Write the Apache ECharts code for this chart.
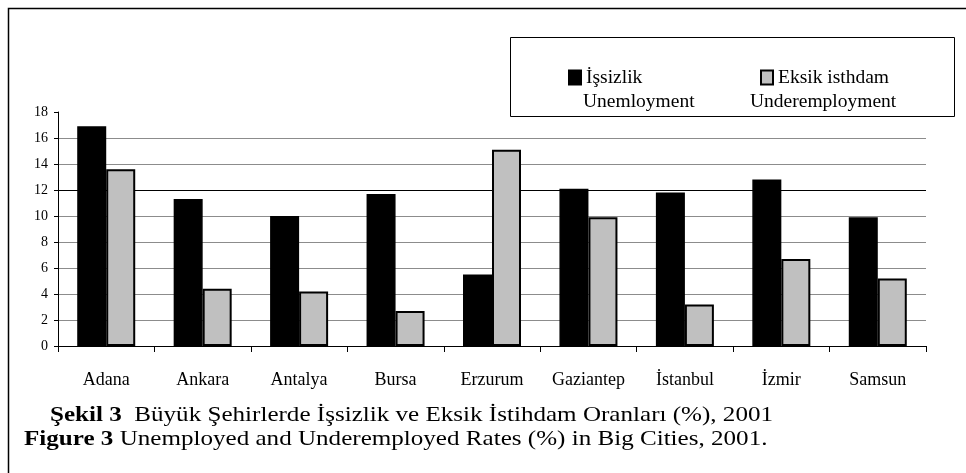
<!DOCTYPE html>
<html>
<head>
<meta charset="utf-8">
<script src="https://cdn.jsdelivr.net/npm/echarts@6/dist/echarts.min.js"></script>
<style>
  html, body { margin: 0; padding: 0; background: #fff; }
  #main { width: 966px; height: 473px; }
</style>
</head>
<body>
<div id="main"></div>
<script>
// cities and rates (%)
var cities = ['Adana', 'Ankara', 'Antalya', 'Bursa', 'Erzurum', 'Gaziantep', 'İstanbul', 'İzmir', 'Samsun'];
var unemployment = [16.9, 11.3, 10.0, 11.7, 5.5, 12.1, 11.8, 12.8, 9.9];
var underemployment = [13.6, 4.4, 4.2, 2.7, 15.1, 9.9, 3.2, 6.7, 5.2];
var seriesNames = ['İşsizlik', 'Eksik isthdam'];
var seriesNamesEn = ['Unemloyment', 'Underemployment'];

var FONT = '"Liberation Serif", "Times New Roman", serif';

var chart = echarts.init(document.getElementById('main'), null, { renderer: 'canvas' });

// gridlines 2..16, the one at 12 is drawn darker in the original
var gridColors = ['#8c8c8c', '#8c8c8c', '#8c8c8c', '#8c8c8c', '#8c8c8c', '#000', '#8c8c8c', '#8c8c8c'];

function legendFor(name, left) {
  return {
    left: left,
    top: 67.5,
    padding: 0,
    itemWidth: 12,
    itemHeight: 14,
    icon: 'rect',
    data: [name],
    textStyle: { fontFamily: FONT, fontSize: 19.5, color: '#000', lineHeight: 20, height: 20 }
  };
}

var option = {
  backgroundColor: '#fff',
  animation: false,
  textStyle: { fontFamily: FONT },
  grid: { left: 58, right: 40, top: 112, bottom: 127 },
  legend: [legendFor(seriesNames[0], 568), legendFor(seriesNames[1], 760)],
  xAxis: {
    type: 'category',
    data: cities,
    axisLine: { lineStyle: { color: '#000', width: 1 } },
    axisTick: { show: true, length: 6, interval: 0, lineStyle: { color: '#000' } },
    axisLabel: { interval: 0, margin: 25, fontSize: 18, color: '#000', fontFamily: FONT },
    splitLine: { show: false }
  },
  yAxis: {
    type: 'value',
    min: 0,
    max: 18,
    interval: 2,
    axisLine: { show: true, lineStyle: { color: '#000', width: 1 } },
    axisTick: { show: true, length: 4, lineStyle: { color: '#000' } },
    axisLabel: { margin: 10, fontSize: 14, color: '#000', fontFamily: FONT },
    splitLine: {
      show: true,
      showMinLine: false,
      showMaxLine: false,
      lineStyle: { color: gridColors, width: 1.2 }
    }
  },
  series: [
    {
      name: seriesNames[0],
      type: 'bar',
      data: unemployment,
      barWidth: 29,
      barGap: '0%',
      itemStyle: { color: '#000', borderColor: '#000', borderWidth: 1.5 }
    },
    {
      name: seriesNames[1],
      type: 'bar',
      data: underemployment,
      barWidth: 29,
      barGap: '0%',
      itemStyle: { color: '#c0c0c0', borderColor: '#000', borderWidth: 2 }
    }
  ],
  graphic: [
    {
      type: 'rect',
      silent: true,
      z: -10,
      shape: { x: 8.5, y: 8.5, width: 1000, height: 1000 },
      style: { fill: 'none', stroke: '#000', lineWidth: 1.5 }
    },
    {
      type: 'rect',
      silent: true,
      z: -5,
      shape: { x: 510.5, y: 37.5, width: 444, height: 79 },
      style: { fill: '#fff', stroke: '#000', lineWidth: 1 }
    },
    // second (English) line of each legend entry
    {
      type: 'text',
      x: 583,
      y: 102,
      style: { text: seriesNamesEn[0], font: '19.5px ' + FONT, fill: '#000', verticalAlign: 'middle' }
    },
    {
      type: 'text',
      x: 750,
      y: 102,
      style: { text: seriesNamesEn[1], font: '19.5px ' + FONT, fill: '#000', verticalAlign: 'middle' }
    },
    // caption, the original type is set a bit wider
    {
      type: 'text',
      x: 50,
      y: 415,
      scaleX: 1.14,
      style: {
        text: '{b|Şekil 3}  Büyük Şehirlerde İşsizlik ve Eksik İstihdam Oranları (%), 2001',
        font: '22px ' + FONT,
        fill: '#000',
        verticalAlign: 'middle',
        rich: { b: { fontWeight: 'bold', fontSize: 22, fontFamily: FONT } }
      }
    },
    {
      type: 'text',
      x: 24,
      y: 439,
      scaleX: 1.14,
      style: {
        text: '{b|Figure 3} Unemployed and Underemployed Rates (%) in Big Cities, 2001.',
        font: '22px ' + FONT,
        fill: '#000',
        verticalAlign: 'middle',
        rich: { b: { fontWeight: 'bold', fontSize: 22, fontFamily: FONT } }
      }
    }
  ]
};

chart.setOption(option);
</script>
</body>
</html>
